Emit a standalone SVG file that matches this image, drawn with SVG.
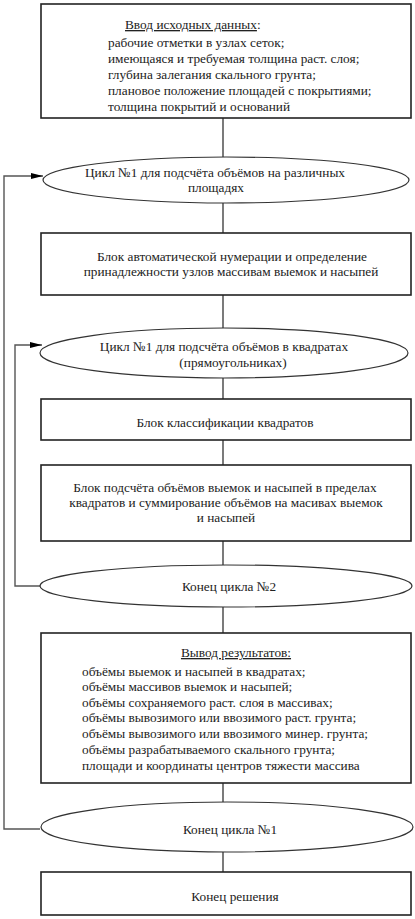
<svg xmlns="http://www.w3.org/2000/svg" width="415" height="919" viewBox="0 0 415 919">
<style>
.box{fill:#fff;stroke:#222;stroke-width:1.6}
.ell{fill:#fff;stroke:#333;stroke-width:1.2}
.t{font-family:"Liberation Serif","Times New Roman",serif;font-size:13.3px;fill:#222}
.c{text-anchor:middle}
.ln{fill:none;stroke:#333;stroke-width:1.3}
.lp{fill:none;stroke:#555;stroke-width:1.4}
</style>
<defs>
<marker id="ah" markerWidth="12" markerHeight="8" refX="12" refY="4" orient="auto" markerUnits="userSpaceOnUse">
<path d="M0,1 L12,4 L0,7 Z" fill="#000"/>
</marker>
</defs>
<rect width="415" height="919" fill="#fff"/>
<g id="connectors">
<line class="ln" x1="223" y1="118" x2="223" y2="157"/>
<line class="ln" x1="223" y1="203" x2="223" y2="233"/>
<line class="ln" x1="223" y1="295" x2="223" y2="328"/>
<line class="ln" x1="223" y1="378" x2="223" y2="399"/>
<line class="ln" x1="223" y1="440" x2="223" y2="465"/>
<line class="ln" x1="223" y1="541" x2="223" y2="565"/>
<line class="ln" x1="223" y1="607" x2="223" y2="633"/>
<line class="ln" x1="223" y1="783" x2="223" y2="802"/>
<line class="ln" x1="223" y1="852" x2="223" y2="872"/>
<polyline class="lp" points="40,829 4,829 4,176 43,176" marker-end="url(#ah)"/>
<polyline class="lp" points="40,586 15,586 15,345 42,345" marker-end="url(#ah)"/>
</g>
<g id="input">
<rect class="box" x="41" y="4" width="370" height="114"/>
<text class="t" x="125" y="29"><tspan text-decoration="underline">Ввод исходных данных</tspan>:</text>
<text class="t" x="108" y="47">рабочие отметки в узлах сеток;</text>
<text class="t" x="108" y="63">имеющаяся и требуемая толщина раст. слоя;</text>
<text class="t" x="108" y="79">глубина залегания скального грунта;</text>
<text class="t" x="108" y="95">плановое положение площадей с покрытиями;</text>
<text class="t" x="108" y="111">толщина покрытий и оснований</text>
</g>
<g id="cycle1">
<ellipse class="ell" cx="226" cy="180" rx="183" ry="23"/>
<text class="t c" x="215" y="177">Цикл №1 для подсчёта объёмов на различных</text>
<text class="t c" x="216" y="192">площадях</text>
</g>
<g id="autonum">
<rect class="box" x="41" y="233" width="370" height="62"/>
<text class="t c" x="232" y="261">Блок автоматической нумерации и определение</text>
<text class="t c" x="231" y="276">принадлежности узлов массивам выемок и насыпей</text>
</g>
<g id="cycle2">
<ellipse class="ell" cx="224" cy="353" rx="184" ry="25"/>
<text class="t c" x="224" y="351">Цикл №1 для подсчёта объёмов в квадратах</text>
<text class="t c" x="233" y="367">(прямоугольниках)</text>
</g>
<g id="classify">
<rect class="box" x="41" y="399" width="370" height="41"/>
<text class="t c" x="225" y="427">Блок классификации квадратов</text>
</g>
<g id="volumes">
<rect class="box" x="41" y="465" width="370" height="76"/>
<text class="t c" x="225" y="492">Блок подсчёта объёмов выемок и насыпей в пределах</text>
<text class="t c" x="226" y="507">квадратов и суммирование объёмов на масивах выемок</text>
<text class="t c" x="226" y="522">и насыпей</text>
</g>
<g id="end2">
<ellipse class="ell" cx="226" cy="586" rx="186" ry="21"/>
<text class="t c" x="229" y="591">Конец цикла №2</text>
</g>
<g id="output">
<rect class="box" x="41" y="633" width="370" height="150"/>
<text class="t c" x="236" y="657" text-decoration="underline">Вывод результатов:</text>
<text class="t" x="82" y="676">объёмы выемок и насыпей в квадратах;</text>
<text class="t" x="82" y="691">объёмы массивов выемок и насыпей;</text>
<text class="t" x="82" y="707">объёмы сохраняемого раст. слоя в массивах;</text>
<text class="t" x="82" y="722">объёмы вывозимого или ввозимого раст. грунта;</text>
<text class="t" x="82" y="738">объёмы вывозимого или ввозимого минер. грунта;</text>
<text class="t" x="82" y="754">объёмы разрабатываемого скального грунта;</text>
<text class="t" x="82" y="770">площади и координаты центров тяжести массива</text>
</g>
<g id="end1">
<ellipse class="ell" cx="227" cy="827" rx="186" ry="25"/>
<text class="t c" x="230" y="834">Конец цикла №1</text>
</g>
<g id="finish">
<rect class="box" x="41" y="872" width="370" height="43"/>
<text class="t c" x="235" y="901">Конец решения</text>
</g>
</svg>
